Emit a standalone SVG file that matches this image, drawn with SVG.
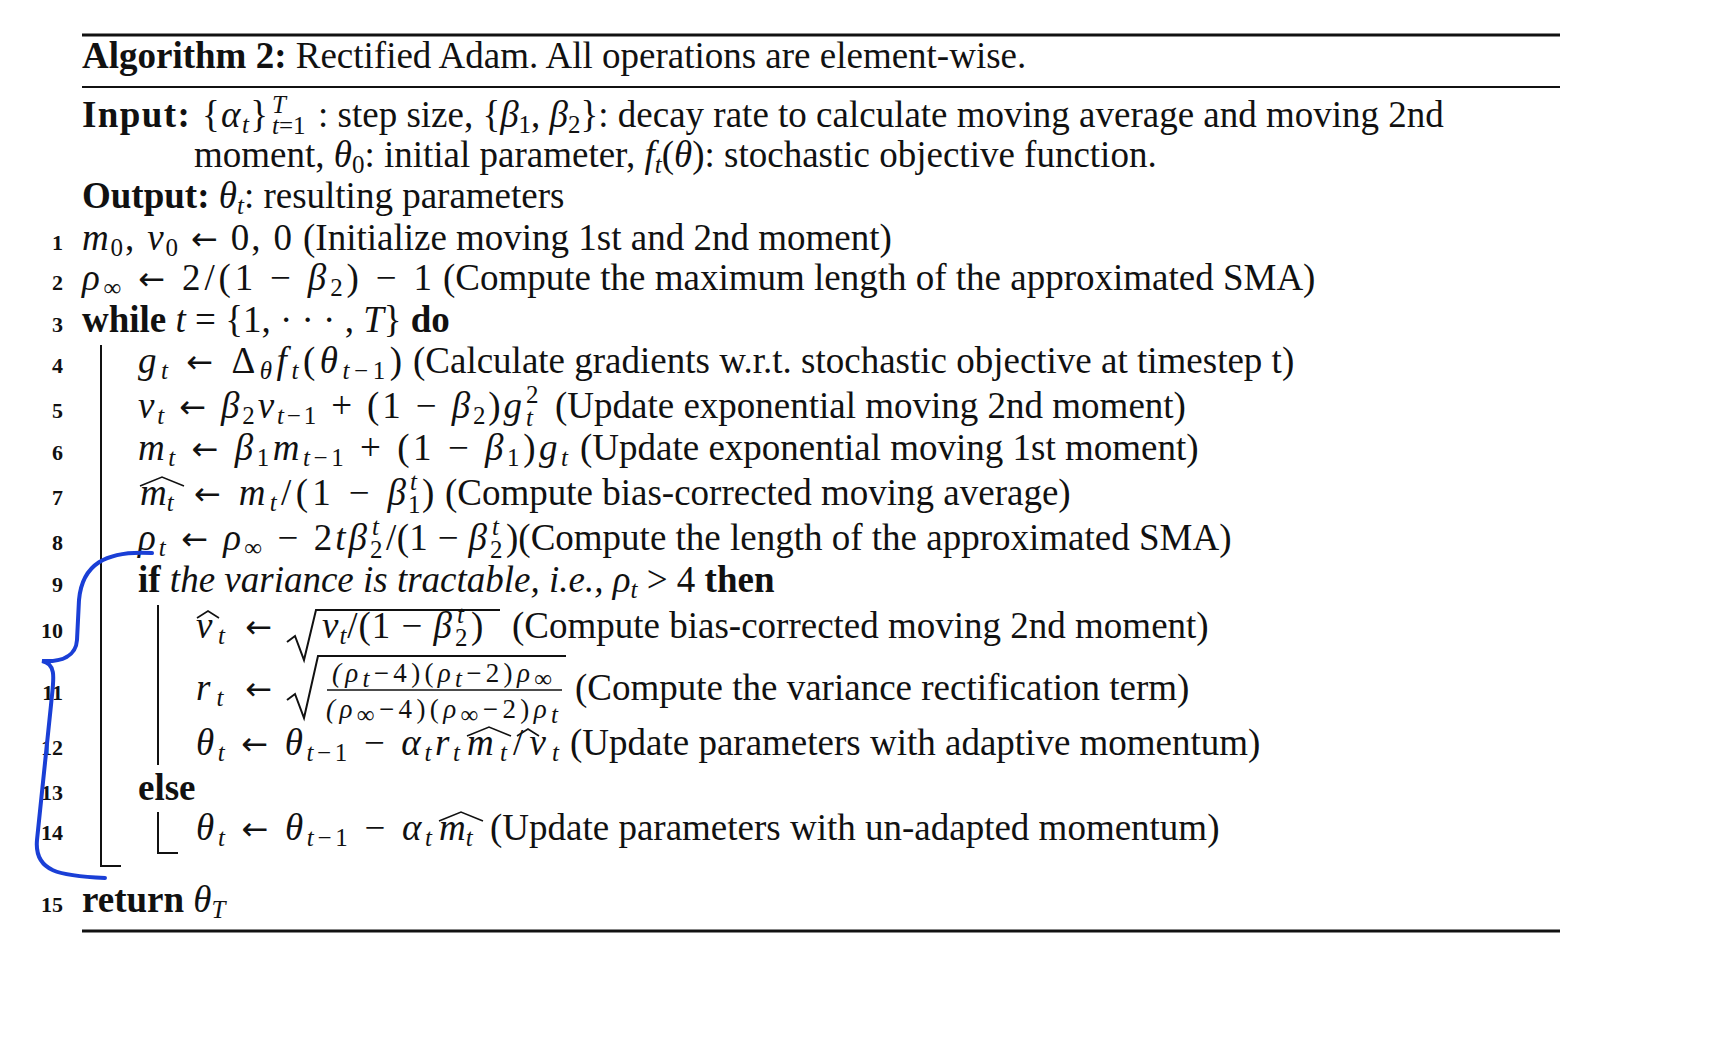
<svg xmlns="http://www.w3.org/2000/svg" width="1722" height="1038" viewBox="0 0 1722 1038">
<style>
text{font-family:"Liberation Serif","DejaVu Serif",serif;font-size:37px;fill:#111}
.n{font-size:22px;font-weight:bold;text-anchor:end}
.b{font-weight:bold}
.i{font-style:italic}
.s{font-size:25px}
.f{font-size:27px}
.a{font-family:"DejaVu Sans",sans-serif;font-size:32px}
.r{stroke:#111;fill:none}
</style>
<rect width="1722" height="1038" fill="#fff"/>
<g id="rules" class="r">
<line x1="82" y1="35" x2="1560" y2="35" stroke-width="3"/>
<line x1="82" y1="87" x2="1560" y2="87" stroke-width="2"/>
<line x1="82" y1="931" x2="1560" y2="931" stroke-width="3"/>
<polyline points="101,345 101,866 121,866" stroke-width="2"/>
<line x1="158" y1="605" x2="158" y2="765" stroke-width="2"/>
<polyline points="158,812 158,853 178,853" stroke-width="2"/>
<path d="M287,642 l8,-6 l9,24 l12,-50 h184" stroke-width="2"/>
<path d="M287,700 l8,-6 l9,24 l14,-62 h248" stroke-width="2"/>
<line x1="327" y1="690" x2="562" y2="690" stroke-width="1.5"/>
<path d="M140,486 l22,-9 l22,9" stroke-width="1.6"/>
<path d="M197,618 l11,-7 l11,7" stroke-width="1.6"/>
<path d="M467,736 l22,-9 l22,9" stroke-width="1.6"/>
<path d="M517,736 l11,-7 l11,7" stroke-width="1.6"/>
<path d="M439,821 l22,-9 l22,9" stroke-width="1.6"/>
</g>
<g id="text">
<text x="82" y="68"><tspan class="b">Algorithm 2:</tspan> Rectified Adam. All operations are element-wise.</text>
<text x="82" y="127" textLength="186" lengthAdjust="spacing"><tspan class="b">Input:</tspan> {<tspan class="i">α</tspan><tspan class="i s" dy="6">t</tspan><tspan dy="-6">}</tspan></text>
<text x="272" y="113" class="s i">T</text>
<text x="272" y="134" class="s"><tspan class="i">t</tspan>=1</text>
<text x="318" y="127">: step size, {<tspan class="i">β</tspan><tspan class="s" dy="6">1</tspan><tspan dy="-6">, </tspan><tspan class="i">β</tspan><tspan class="s" dy="6">2</tspan><tspan dy="-6">}: decay rate to calculate moving average and moving 2nd</tspan></text>
<text x="194" y="167">moment, <tspan class="i">θ</tspan><tspan class="s" dy="6">0</tspan><tspan dy="-6">: initial parameter, </tspan><tspan class="i">f</tspan><tspan class="s i" dy="6">t</tspan><tspan dy="-6">(</tspan><tspan class="i">θ</tspan>): stochastic objective function.</text>
<text x="82" y="208"><tspan class="b">Output:</tspan> <tspan class="i">θ</tspan><tspan class="s i" dy="6">t</tspan><tspan dy="-6">: resulting parameters</tspan></text>
<text class="n" x="63" y="250">1</text>
<text x="82" y="250" textLength="210" lengthAdjust="spacing"><tspan class="i">m</tspan><tspan class="s" dy="6">0</tspan><tspan dy="-6">, </tspan><tspan class="i">v</tspan><tspan class="s" dy="6">0</tspan><tspan dy="-6"> </tspan><tspan class="a">←</tspan> 0, 0</text>
<text x="303" y="250">(Initialize moving 1st and 2nd moment)</text>
<text class="n" x="63" y="290">2</text>
<text x="82" y="290" textLength="350" lengthAdjust="spacing"><tspan class="i">ρ</tspan><tspan class="s" dy="6">∞</tspan><tspan dy="-6"> </tspan><tspan class="a">←</tspan> 2/(1 − <tspan class="i">β</tspan><tspan class="s" dy="6">2</tspan><tspan dy="-6">) − 1</tspan></text>
<text x="443" y="290">(Compute the maximum length of the approximated SMA)</text>
<text class="n" x="63" y="332">3</text>
<text x="82" y="332"><tspan class="b">while</tspan> <tspan class="i">t</tspan> = {1, · · · , <tspan class="i">T</tspan>} <tspan class="b">do</tspan></text>
<text class="n" x="63" y="373">4</text>
<text x="138" y="373" textLength="264" lengthAdjust="spacing"><tspan class="i">g</tspan><tspan class="s i" dy="6">t</tspan><tspan dy="-6"> </tspan><tspan class="a">←</tspan> Δ<tspan class="s i" dy="6">θ</tspan><tspan class="i" dy="-6">f</tspan><tspan class="s i" dy="6">t</tspan><tspan dy="-6">(</tspan><tspan class="i">θ</tspan><tspan class="s" dy="6"><tspan class="i">t</tspan>−1</tspan><tspan dy="-6">)</tspan></text>
<text x="413" y="373">(Calculate gradients w.r.t. stochastic objective at timestep t)</text>
<text class="n" x="63" y="418">5</text>
<text x="138" y="418" textLength="384" lengthAdjust="spacing"><tspan class="i">v</tspan><tspan class="s i" dy="6">t</tspan><tspan dy="-6"> </tspan><tspan class="a">←</tspan> <tspan class="i">β</tspan><tspan class="s" dy="6">2</tspan><tspan class="i" dy="-6">v</tspan><tspan class="s" dy="6"><tspan class="i">t</tspan>−1</tspan><tspan dy="-6"> + (1 − </tspan><tspan class="i">β</tspan><tspan class="s" dy="6">2</tspan><tspan dy="-6">)</tspan><tspan class="i">g</tspan></text>
<text x="526" y="403" class="s">2</text>
<text x="526" y="426" class="s i">t</text>
<text x="555" y="418">(Update exponential moving 2nd moment)</text>
<text class="n" x="63" y="460">6</text>
<text x="138" y="460" textLength="430" lengthAdjust="spacing"><tspan class="i">m</tspan><tspan class="s i" dy="6">t</tspan><tspan dy="-6"> </tspan><tspan class="a">←</tspan> <tspan class="i">β</tspan><tspan class="s" dy="6">1</tspan><tspan class="i" dy="-6">m</tspan><tspan class="s" dy="6"><tspan class="i">t</tspan>−1</tspan><tspan dy="-6"> + (1 − </tspan><tspan class="i">β</tspan><tspan class="s" dy="6">1</tspan><tspan dy="-6">)</tspan><tspan class="i">g</tspan><tspan class="s i" dy="6">t</tspan></text>
<text x="580" y="460">(Update exponential moving 1st moment)</text>
<text class="n" x="63" y="505">7</text>
<text x="140" y="505"><tspan class="i">m</tspan><tspan class="s i" dy="6">t</tspan></text>
<text x="194" y="505" textLength="212" lengthAdjust="spacing"><tspan class="a">←</tspan> <tspan class="i">m</tspan><tspan class="s i" dy="6">t</tspan><tspan dy="-6">/(1 − </tspan><tspan class="i">β</tspan></text>
<text x="410" y="490" class="s i">t</text>
<text x="408" y="513" class="s">1</text>
<text x="422" y="505">)</text>
<text x="445" y="505">(Compute bias-corrected moving average)</text>
<text class="n" x="63" y="550">8</text>
<text x="138" y="550" textLength="229" lengthAdjust="spacing"><tspan class="i">ρ</tspan><tspan class="s i" dy="6">t</tspan><tspan dy="-6"> </tspan><tspan class="a">←</tspan> <tspan class="i">ρ</tspan><tspan class="s" dy="6">∞</tspan><tspan dy="-6"> − 2</tspan><tspan class="i">tβ</tspan></text>
<text x="372" y="535" class="s i">t</text>
<text x="370" y="558" class="s">2</text>
<text x="386" y="550" textLength="101" lengthAdjust="spacing">/(1 − <tspan class="i">β</tspan></text>
<text x="492" y="535" class="s i">t</text>
<text x="490" y="558" class="s">2</text>
<text x="506" y="550">)(Compute the length of the approximated SMA)</text>
<text class="n" x="63" y="592">9</text>
<text x="138" y="592"><tspan class="b">if</tspan> <tspan class="i">the variance is tractable, i.e., ρ</tspan><tspan class="s i" dy="6">t</tspan><tspan dy="-6"> &gt; 4 </tspan><tspan class="b">then</tspan></text>
<text class="n" x="63" y="638">10</text>
<text x="196" y="638" textLength="76" lengthAdjust="spacing"><tspan class="i">v</tspan><tspan class="s i" dy="6">t</tspan><tspan dy="-6"> </tspan><tspan class="a">←</tspan></text>
<text x="322" y="638" textLength="130" lengthAdjust="spacing"><tspan class="i">v</tspan><tspan class="s i" dy="6">t</tspan><tspan dy="-6">/(1 − </tspan><tspan class="i">β</tspan></text>
<text x="457" y="623" class="s i">t</text>
<text x="455" y="646" class="s">2</text>
<text x="471" y="638">)</text>
<text x="512" y="638">(Compute bias-corrected moving 2nd moment)</text>
<text class="n" x="63" y="700">11</text>
<text x="196" y="700" textLength="76" lengthAdjust="spacing"><tspan class="i">r</tspan><tspan class="s i" dy="6">t</tspan><tspan dy="-6"> </tspan><tspan class="a">←</tspan></text>
<text class="f" x="332" y="682" textLength="220" lengthAdjust="spacing"><tspan class="i">(ρ</tspan><tspan class="s i" dy="5">t</tspan><tspan dy="-5">−4)(</tspan><tspan class="i">ρ</tspan><tspan class="s i" dy="5">t</tspan><tspan dy="-5">−2)</tspan><tspan class="i">ρ</tspan><tspan class="s" dy="5">∞</tspan></text>
<text class="f" x="326" y="718" textLength="232" lengthAdjust="spacing"><tspan class="i">(ρ</tspan><tspan class="s" dy="5">∞</tspan><tspan dy="-5">−4)(</tspan><tspan class="i">ρ</tspan><tspan class="s" dy="5">∞</tspan><tspan dy="-5">−2)</tspan><tspan class="i">ρ</tspan><tspan class="s i" dy="5">t</tspan></text>
<text x="575" y="700">(Compute the variance rectification term)</text>
<text class="n" x="63" y="755">12</text>
<text x="196" y="755" textLength="264" lengthAdjust="spacing"><tspan class="i">θ</tspan><tspan class="s i" dy="6">t</tspan><tspan dy="-6"> </tspan><tspan class="a">←</tspan> <tspan class="i">θ</tspan><tspan class="s" dy="6"><tspan class="i">t</tspan>−1</tspan><tspan dy="-6"> − </tspan><tspan class="i">α</tspan><tspan class="s i" dy="6">t</tspan><tspan class="i" dy="-6">r</tspan><tspan class="s i" dy="6">t</tspan></text>
<text x="467" y="755" textLength="92" lengthAdjust="spacing"><tspan class="i">m</tspan><tspan class="s i" dy="6">t</tspan><tspan dy="-6">/</tspan><tspan class="i">v</tspan><tspan class="s i" dy="6">t</tspan></text>
<text x="570" y="755">(Update parameters with adaptive momentum)</text>
<text class="n" x="63" y="800">13</text>
<text x="138" y="800" class="b">else</text>
<text class="n" x="63" y="840">14</text>
<text x="196" y="840" textLength="236" lengthAdjust="spacing"><tspan class="i">θ</tspan><tspan class="s i" dy="6">t</tspan><tspan dy="-6"> </tspan><tspan class="a">←</tspan> <tspan class="i">θ</tspan><tspan class="s" dy="6"><tspan class="i">t</tspan>−1</tspan><tspan dy="-6"> − </tspan><tspan class="i">α</tspan><tspan class="s i" dy="6">t</tspan></text>
<text x="439" y="840"><tspan class="i">m</tspan><tspan class="s i" dy="6">t</tspan></text>
<text x="490" y="840">(Update parameters with un-adapted momentum)</text>
<text class="n" x="63" y="912">15</text>
<text x="82" y="912"><tspan class="b">return</tspan> <tspan class="i">θ</tspan><tspan class="s i" dy="6">T</tspan></text>
</g>
<g id="annotation">
<path d="M152,553 C105,550 82,565 79,600 L77,640 C76,656 62,662 42,661 C58,664 53,682 51,705 L37,840 C34,872 60,876 105,878" fill="none" stroke="#1a3fd6" stroke-width="4" stroke-linecap="round"/>
</g>
</svg>
